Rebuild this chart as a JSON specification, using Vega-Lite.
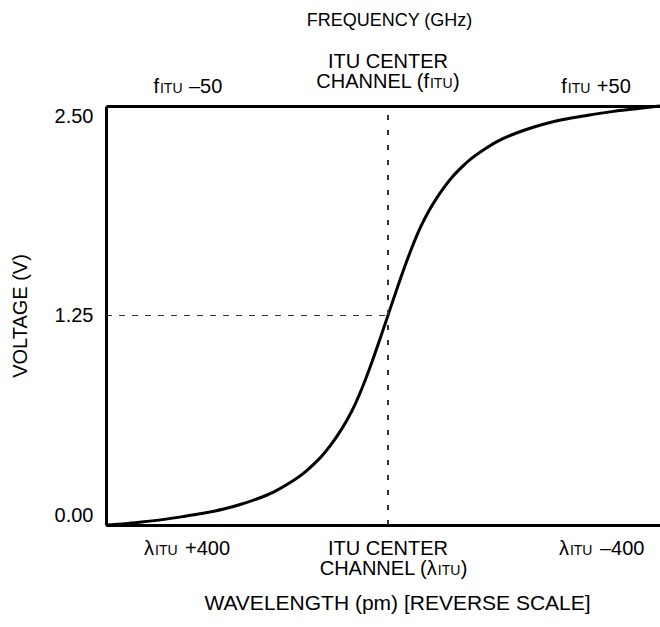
{
  "$schema": "https://vega.github.io/schema/vega-lite/v6.json",
  "width": 554,
  "height": 419,
  "autosize": "none",
  "padding": {"left": 106, "top": 106, "right": 0, "bottom": 102},
  "background": "white",
  "config": {
    "view": {"stroke": null},
    "font": "Liberation Sans",
    "axis": {
      "labelFont": "Liberation Sans",
      "titleFont": "Liberation Sans",
      "labelFontSize": 20,
      "titleFontSize": 20,
      "titleFontWeight": "normal",
      "labelColor": "black",
      "titleColor": "black",
      "domainColor": "black",
      "domainWidth": 3,
      "grid": false,
      "ticks": false
    },
    "text": {"font": "Liberation Sans", "fontSize": 20, "color": "black", "baseline": "alphabetic"}
  },
  "datasets": {
    "curve": [
      {"ghz": -68.7, "v": 0},
      {"ghz": -64, "v": 0.008},
      {"ghz": -60, "v": 0.018},
      {"ghz": -55, "v": 0.032},
      {"ghz": -50, "v": 0.05},
      {"ghz": -45, "v": 0.07},
      {"ghz": -40, "v": 0.095},
      {"ghz": -36, "v": 0.122},
      {"ghz": -32, "v": 0.155},
      {"ghz": -28, "v": 0.195},
      {"ghz": -24, "v": 0.25},
      {"ghz": -20, "v": 0.32},
      {"ghz": -18, "v": 0.365},
      {"ghz": -16, "v": 0.415},
      {"ghz": -14, "v": 0.475},
      {"ghz": -12, "v": 0.545},
      {"ghz": -10, "v": 0.625},
      {"ghz": -8, "v": 0.72},
      {"ghz": -6, "v": 0.835},
      {"ghz": -4, "v": 0.965},
      {"ghz": -2, "v": 1.105},
      {"ghz": 0, "v": 1.25},
      {"ghz": 2, "v": 1.395},
      {"ghz": 4, "v": 1.535},
      {"ghz": 6, "v": 1.665},
      {"ghz": 8, "v": 1.78},
      {"ghz": 10, "v": 1.875},
      {"ghz": 12, "v": 1.955},
      {"ghz": 14, "v": 2.025},
      {"ghz": 16, "v": 2.085},
      {"ghz": 18, "v": 2.135},
      {"ghz": 20, "v": 2.18},
      {"ghz": 24, "v": 2.25},
      {"ghz": 28, "v": 2.305},
      {"ghz": 32, "v": 2.345},
      {"ghz": 36, "v": 2.378},
      {"ghz": 40, "v": 2.405},
      {"ghz": 45, "v": 2.43},
      {"ghz": 50, "v": 2.45},
      {"ghz": 55, "v": 2.468},
      {"ghz": 60, "v": 2.482},
      {"ghz": 66.3, "v": 2.5}
    ],
    "labels": [
      {"line": "top2", "x": -55.8, "pre": "f", "sub": "ITU", "post": "–50", "close": "", "mid": ""},
      {"line": "top2", "x": 43.6, "pre": "f", "sub": "ITU", "post": "+50", "close": "", "mid": ""},
      {"line": "top2c", "x": 10.0, "pre": "CHANNEL (f", "sub": "ITU", "post": "", "close": ")", "mid": ""},
      {"line": "top1", "x": 0, "pre": "", "sub": "", "post": "", "close": "", "mid": "ITU CENTER"},
      {"line": "bot1", "x": -57.0, "pre": "λ", "sub": "ITU", "post": "+400", "close": "", "mid": ""},
      {"line": "bot1", "x": 0, "pre": "", "sub": "", "post": "", "close": "", "mid": "ITU CENTER"},
      {"line": "bot1", "x": 44.1, "pre": "λ", "sub": "ITU", "post": "–400", "close": "", "mid": ""},
      {"line": "bot2", "x": 11.9, "pre": "CHANNEL (λ", "sub": "ITU", "post": "", "close": ")", "mid": ""}
    ]
  },
  "layer": [
    {
      "data": {"name": "curve"},
      "mark": {"type": "line", "color": "black", "strokeWidth": 3, "interpolate": "monotone"},
      "encoding": {
        "x": {"field": "ghz", "type": "quantitative", "scale": {"domain": [-68.7, 66.3], "nice": false, "zero": false},
              "axis": {"orient": "bottom", "labels": false, "title": "WAVELENGTH (pm) [REVERSE SCALE]", "titleFontSize": 21, "titlePadding": 67, "titleX": 291}},
        "y": {"field": "v", "type": "quantitative", "scale": {"domain": [0, 2.5], "nice": false},
              "axis": {"values": [0, 1.25, 2.5], "format": ".2f", "labelFlush": true, "labelPadding": 13, "title": "VOLTAGE (V)", "titlePadding": 24}}
      }
    },
    {
      "data": {"name": "curve"},
      "mark": {"type": "rule", "color": "#333333", "strokeWidth": 1, "strokeDash": [5, 10]},
      "encoding": {
        "x": {"datum": 0, "type": "quantitative", "axis": {"orient": "top", "labels": false, "title": "FREQUENCY (GHz)", "titleFontSize": 18, "titlePadding": 77, "titleX": 283}},
        "y": {"datum": 0},
        "y2": {"datum": 2.5}
      }
    },
    {
      "data": {"name": "curve"},
      "mark": {"type": "rule", "color": "#333333", "strokeWidth": 1, "strokeDash": [6, 7]},
      "encoding": {"x": {"datum": -68.7, "axis": null}, "x2": {"datum": 0}, "y": {"datum": 1.25}}
    },
    {
      "data": {"name": "labels"},
      "transform": [{"filter": "datum.line === 'top2'"}],
      "encoding": {"x": {"field": "x", "type": "quantitative", "axis": null}, "y": {"datum": 2.5}},
      "layer": [
        {"mark": {"type": "text", "align": "right", "dy": -13}, "encoding": {"text": {"field": "pre"}}},
        {"mark": {"type": "text", "align": "left", "dx": 1, "dy": -13, "fontSize": 14}, "encoding": {"text": {"field": "sub"}}},
        {"mark": {"type": "text", "align": "left", "dx": 30, "dy": -13}, "encoding": {"text": {"field": "post"}}}
      ]
    },
    {
      "data": {"name": "labels"},
      "transform": [{"filter": "datum.line === 'top2c'"}],
      "encoding": {"x": {"field": "x", "type": "quantitative", "axis": null}, "y": {"datum": 2.5}},
      "layer": [
        {"mark": {"type": "text", "align": "right", "dy": -18}, "encoding": {"text": {"field": "pre"}}},
        {"mark": {"type": "text", "align": "left", "dx": 1, "dy": -18, "fontSize": 14}, "encoding": {"text": {"field": "sub"}}},
        {"mark": {"type": "text", "align": "left", "dx": 24, "dy": -18}, "encoding": {"text": {"field": "close"}}}
      ]
    },
    {
      "data": {"name": "labels"},
      "transform": [{"filter": "datum.line === 'top1'"}],
      "mark": {"type": "text", "align": "center", "dy": -38},
      "encoding": {"x": {"field": "x", "type": "quantitative", "axis": null}, "y": {"datum": 2.5}, "text": {"field": "mid"}}
    },
    {
      "data": {"name": "labels"},
      "transform": [{"filter": "datum.line === 'bot1'"}],
      "encoding": {"x": {"field": "x", "type": "quantitative", "axis": null}, "y": {"datum": 0}},
      "layer": [
        {"mark": {"type": "text", "align": "right", "dy": 30}, "encoding": {"text": {"field": "pre"}}},
        {"mark": {"type": "text", "align": "left", "dx": 1, "dy": 30, "fontSize": 14}, "encoding": {"text": {"field": "sub"}}},
        {"mark": {"type": "text", "align": "left", "dx": 31, "dy": 30}, "encoding": {"text": {"field": "post"}}},
        {"mark": {"type": "text", "align": "center", "dy": 30}, "encoding": {"text": {"field": "mid"}}}
      ]
    },
    {
      "data": {"name": "labels"},
      "transform": [{"filter": "datum.line === 'bot2'"}],
      "encoding": {"x": {"field": "x", "type": "quantitative", "axis": null}, "y": {"datum": 0}},
      "layer": [
        {"mark": {"type": "text", "align": "right", "dy": 50}, "encoding": {"text": {"field": "pre"}}},
        {"mark": {"type": "text", "align": "left", "dx": 1, "dy": 50, "fontSize": 14}, "encoding": {"text": {"field": "sub"}}},
        {"mark": {"type": "text", "align": "left", "dx": 24, "dy": 50}, "encoding": {"text": {"field": "close"}}}
      ]
    }
  ]
}
